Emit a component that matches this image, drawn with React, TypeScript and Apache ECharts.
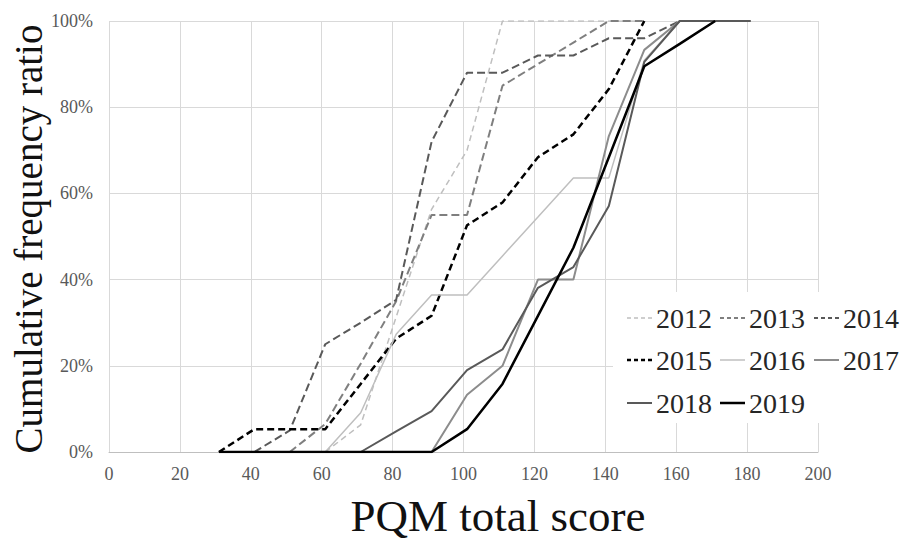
import React, { useEffect, useRef } from "react";
import * as echarts from "echarts";

// Score bins (x)
const scores = [31, 41, 51, 61, 71, 81, 91, 101, 111, 121, 131, 141, 151, 161, 171, 181];

// Cumulative frequency ratio (%) per year; null = no point
const y2012 = [null, null, null, 0, 6.3, 31.3, 56.3, 70, 100, 100, 100, 100, 100, null, null, null];
const y2013 = [null, null, 0, 6.5, 20.5, 35, 55, 55, 85, 90, 95, 100, 100, null, null, null];
const y2014 = [null, 0, 5, 25, 30, 35.3, 72, 88, 88, 92, 92, 96, 96, 100, null, null];
const y2015 = [0, 5.3, 5.3, 5.3, 15.8, 26.3, 31.6, 52.6, 57.9, 68.4, 73.7, 84.2, 100, null, null, null];
const y2016 = [null, null, null, 0, 9.1, 27.3, 36.4, 36.4, 45.5, 54.5, 63.6, 63.6, 90.9, 100, 100, 100];
const y2017 = [null, null, null, null, null, null, 0, 13.3, 20, 40, 40, 73.3, 93.3, 100, 100, 100];
const y2018 = [null, null, null, null, 0, 4.8, 9.5, 19, 23.8, 38.1, 42.9, 57.1, 90.5, 100, 100, 100];
const y2019 = [0, 0, 0, 0, 0, 0, 0, 5.3, 15.8, 31.6, 47.4, 68.4, 89.5, 94.7, 100, null];

const years = ["2012", "2013", "2014", "2015", "2016", "2017", "2018", "2019"];
const values = [y2012, y2013, y2014, y2015, y2016, y2017, y2018, y2019];

const styles = [
  { color: "#bfbfbf", width: 1.5, dash: [6, 4] },
  { color: "#7f7f7f", width: 2, dash: [8, 4] },
  { color: "#595959", width: 2, dash: [8, 4] },
  { color: "#000000", width: 2.5, dash: [7, 4] },
  { color: "#bfbfbf", width: 1.5, dash: null },
  { color: "#8c8c8c", width: 2, dash: null },
  { color: "#595959", width: 2, dash: null },
  { color: "#000000", width: 2.5, dash: null },
];

const SERIF = "Liberation Serif";

export default function App() {
  const ref = useRef<HTMLDivElement>(null);
  useEffect(() => {
    if (!ref.current) return;
    const chart = echarts.init(ref.current, undefined, { renderer: "svg" });

    const series = years.map((name, k) => ({
      name,
      type: "line",
      showSymbol: false,
      symbol: "none",
      data: scores
        .map((x, i) => [x, values[k][i]])
        .filter((p) => p[1] !== null),
      lineStyle: {
        color: styles[k].color,
        width: styles[k].width,
        type: styles[k].dash ? styles[k].dash : "solid",
        cap: "butt",
      },
      itemStyle: { color: styles[k].color },
      z: 2 + k,
    }));

    // legend (drawn as graphic)
    const rowsY = [318, 360, 403];
    const colsX = [627, 720, 814];
    const legendEls: any[] = [
      {
        type: "rect",
        shape: { x: 613, y: 292, width: 288, height: 131 },
        style: { fill: "#ffffff" },
        z: 100,
      },
    ];
    years.forEach((name, k) => {
      const r = Math.floor(k / 3);
      const c = k % 3;
      const x = colsX[c];
      const y = rowsY[r];
      legendEls.push({
        type: "line",
        shape: { x1: x, y1: y, x2: x + 25, y2: y },
        style: {
          stroke: styles[k].color,
          lineWidth: styles[k].width,
          lineDash: styles[k].dash ? [4, 3] : null,
        },
        z: 101,
      });
      legendEls.push({
        type: "text",
        x: x + 29,
        y: y,
        style: {
          text: name,
          fontFamily: SERIF,
          fontSize: 28,
          fill: "#262626",
          verticalAlign: "middle",
          align: "left",
        },
        z: 101,
      });
    });

    chart.setOption({
      animation: false,
      grid: { left: 109, right: 83, top: 21, bottom: 92, containLabel: false },
      xAxis: {
        type: "value",
        min: 0,
        max: 200,
        interval: 20,
        axisLine: { show: true, lineStyle: { color: "#bfbfbf", width: 1 } },
        axisTick: { show: false },
        splitLine: { show: true, lineStyle: { color: "#d9d9d9", width: 1 } },
        axisLabel: { color: "#595959", fontFamily: SERIF, fontSize: 18, margin: 13 },
      },
      yAxis: {
        type: "value",
        min: 0,
        max: 100,
        interval: 20,
        axisLine: { show: false },
        axisTick: { show: false },
        splitLine: { show: true, lineStyle: { color: "#d9d9d9", width: 1 } },
        axisLabel: {
          color: "#595959",
          fontFamily: SERIF,
          fontSize: 18,
          margin: 16,
          formatter: "{value}%",
        },
      },
      series,
      graphic: [
        {
          type: "text",
          x: 28,
          y: 239,
          rotation: Math.PI / 2,
          style: {
            text: "Cumulative frequency ratio",
            fontFamily: SERIF,
            fontSize: 39,
            fill: "#111111",
            align: "center",
            verticalAlign: "middle",
          },
          z: 100,
        },
        {
          type: "text",
          x: 498,
          y: 516,
          style: {
            text: "PQM total score",
            fontFamily: SERIF,
            fontSize: 45,
            fill: "#111111",
            align: "center",
            verticalAlign: "middle",
          },
          z: 100,
        },
        ...legendEls,
      ],
    });
    return () => chart.dispose();
  }, []);
  return (
    <div
      ref={ref}
      style={{ position: "fixed", left: 0, top: 0, width: 901, height: 544, background: "#fff" }}
    />
  );
}
